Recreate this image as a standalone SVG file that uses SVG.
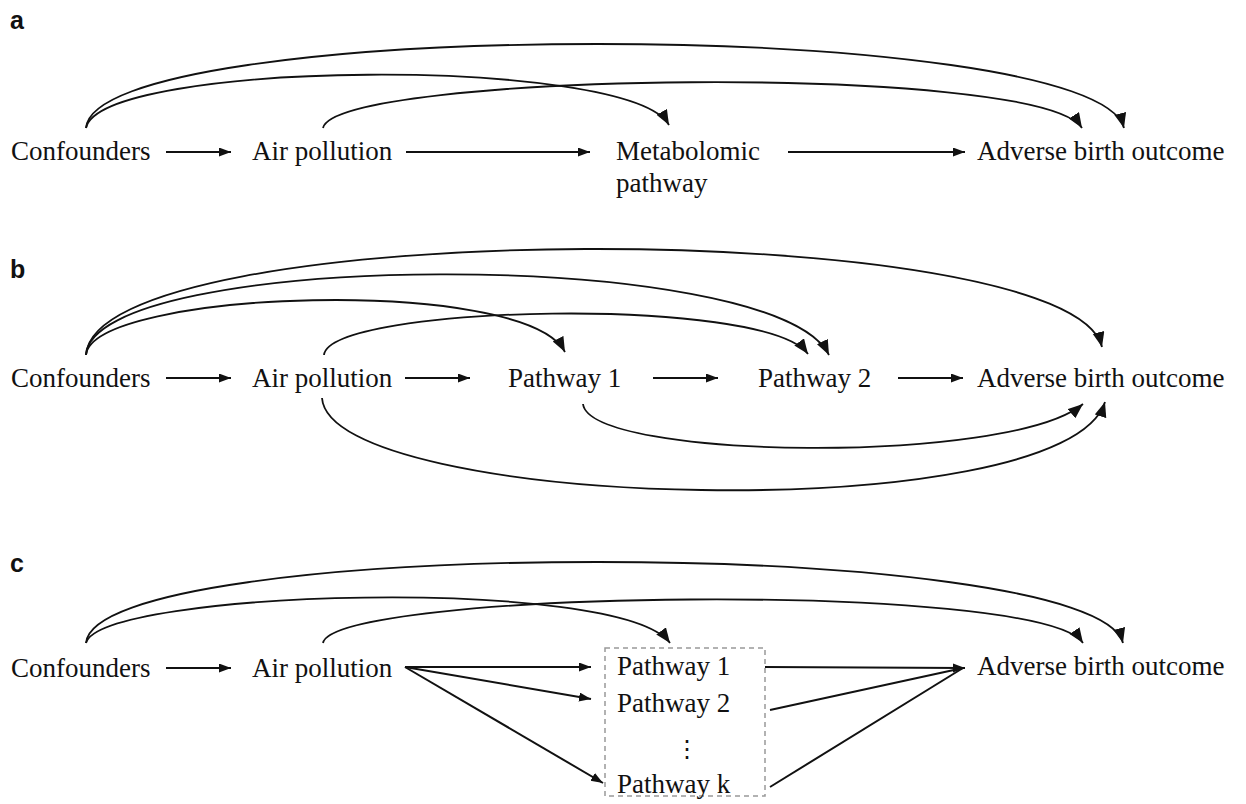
<svg xmlns="http://www.w3.org/2000/svg" width="1246" height="804" viewBox="0 0 1246 804">
<style>
.t{font-family:"Liberation Serif","Times New Roman",serif;font-size:27px;fill:#111}
.lab{font-family:"Liberation Sans",Arial,sans-serif;font-size:25px;font-weight:bold;fill:#111}
.s{fill:none;stroke:#111;stroke-width:2;marker-end:url(#hs)}
.c{fill:none;stroke:#111;stroke-width:1.8;marker-end:url(#hc)}
.n{fill:none;stroke:#111;stroke-width:2}
.box{fill:none;stroke:#999;stroke-width:1.5;stroke-dasharray:5 4}
</style>
<defs>
<marker id="hs" markerUnits="userSpaceOnUse" markerWidth="13" markerHeight="10" refX="12" refY="4.5" orient="auto"><path d="M0,0 L12,4.5 L0,9 z" fill="#111"/></marker>
<marker id="hc" markerUnits="userSpaceOnUse" markerWidth="16" markerHeight="13" refX="15" refY="6" orient="auto"><path d="M0,0 L15,6 L0,12 z" fill="#111"/></marker>
</defs>
<rect width="1246" height="804" fill="#fff"/>
<g id="labels">
<text class="lab" x="10" y="29">a</text>
<text class="lab" x="10" y="278">b</text>
<text class="lab" x="10" y="572">c</text>
</g>
<g id="a-confounders"><text class="t" x="11" y="160">Confounders</text></g>
<g id="a-air"><text class="t" x="252" y="160">Air pollution</text></g>
<g id="a-metab"><text class="t" x="616" y="160">Metabolomic</text><text class="t" x="616" y="192">pathway</text></g>
<g id="a-outcome"><text class="t" x="977" y="160">Adverse birth outcome</text></g>
<g id="b-confounders"><text class="t" x="11" y="387">Confounders</text></g>
<g id="b-air"><text class="t" x="252" y="387">Air pollution</text></g>
<g id="b-p1"><text class="t" x="508" y="387">Pathway 1</text></g>
<g id="b-p2"><text class="t" x="758" y="387">Pathway 2</text></g>
<g id="b-outcome"><text class="t" x="977" y="387">Adverse birth outcome</text></g>
<g id="c-confounders"><text class="t" x="11" y="677">Confounders</text></g>
<g id="c-air"><text class="t" x="252" y="677">Air pollution</text></g>
<g id="c-pathways">
<rect class="box" x="605" y="648" width="160" height="148"/>
<text class="t" x="617" y="675">Pathway 1</text>
<text class="t" x="617" y="712">Pathway 2</text>
<text x="687" y="757" text-anchor="middle" style="font-family:'DejaVu Serif',serif;font-size:24px;fill:#111">⋮</text>
<text class="t" x="617" y="793">Pathway k</text>
</g>
<g id="c-outcome"><text class="t" x="977" y="675">Adverse birth outcome</text></g>
<g id="connectors">
<!-- panel a -->
<path class="s" d="M166,152 L231,152"/>
<path class="s" d="M406,152 L590,152"/>
<path class="s" d="M788,152 L965,152"/>
<path class="c" d="M86,128 C95,16 1095,16 1124,128"/>
<path class="c" d="M86,128 C100,60 630,55 669,125"/>
<path class="c" d="M323,128 C335,72 1040,62 1082,128"/>
<!-- panel b -->
<path class="s" d="M166,378 L231,378"/>
<path class="s" d="M405,378 L470,378"/>
<path class="s" d="M653,378 L718,378"/>
<path class="s" d="M898,378 L963,378"/>
<path class="c" d="M86,355 C95,215 1070,215 1102,347"/>
<path class="c" d="M86,355 C92,250 775,245 829,355"/>
<path class="c" d="M86,355 C92,290 525,275 565,352"/>
<path class="c" d="M324,355 C330,305 765,295 808,354"/>
<path class="c" d="M583,404 C590,460 1010,465 1083,404"/>
<path class="c" d="M322,398 C330,510 1065,530 1105,402"/>
<!-- panel c -->
<path class="s" d="M166,668 L231,668"/>
<path class="s" d="M405,667 L591,667"/>
<path class="s" d="M405,667 L591,699"/>
<path class="s" d="M405,667 L603,783"/>
<path class="s" d="M765,667 L965,668"/>
<path class="n" d="M770,710 L963,668"/>
<path class="n" d="M770,787 L963,668"/>
<path class="c" d="M86,643 C95,535 1095,535 1123,643"/>
<path class="c" d="M86,643 C100,590 620,575 670,643"/>
<path class="c" d="M323,643 C333,590 1040,580 1083,643"/>
</g>
</svg>
